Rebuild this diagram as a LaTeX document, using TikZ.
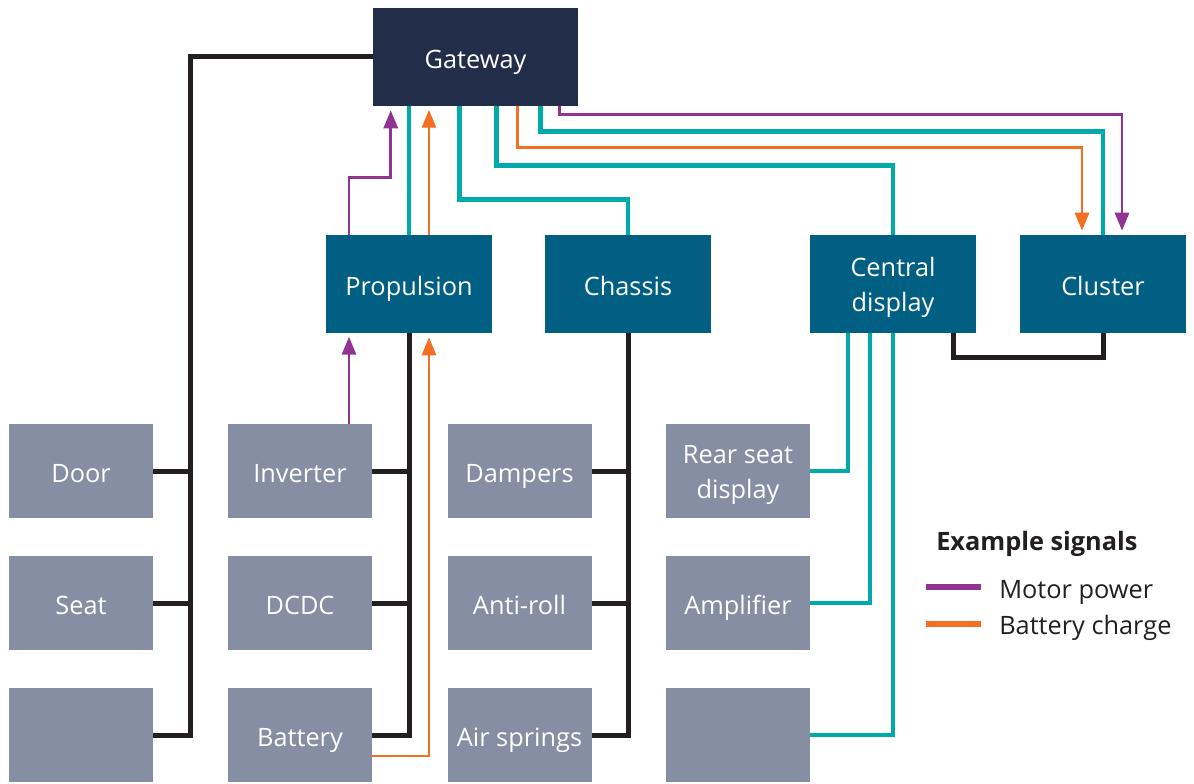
\documentclass[tikz,border=0pt]{standalone}
\usepackage{fontspec}
\setmainfont{Open Sans}
\usetikzlibrary{arrows.meta,calc}
\definecolor{gwnavy}{HTML}{222D4A}
\definecolor{zoneblue}{HTML}{005F83}
\definecolor{ecugrey}{HTML}{868EA3}
\definecolor{busblack}{HTML}{231F20}
\definecolor{ethteal}{HTML}{00AAAA}
\definecolor{motorpurple}{HTML}{913393}
\definecolor{chargeorange}{HTML}{F46F22}
\tikzset{>={Triangle[length=13.5pt,width=10.5pt]}}
\tikzset{
  ecu/.style={fill=ecugrey,text=white,minimum width=108pt,minimum height=70.5pt,inner sep=0pt,align=center,
    font=\fontsize{19}{26}\selectfont,text height=16.7pt,text depth=0pt},
  twolines/.style={text height=41pt,text depth=0pt},
  zonebox/.style={ecu,fill=zoneblue,minimum width=124.5pt,minimum height=73.5pt},
  gwbox/.style={zonebox,fill=gwnavy,minimum width=153.75pt},
  bus/.style={draw=busblack,line width=3.75pt},
  eth/.style={draw=ethteal,line width=3.4pt},
  motor/.style={draw=motorpurple,line width=2.2pt,shorten >=3pt},
  charge/.style={draw=chargeorange,line width=2.2pt,shorten >=3pt},
  keytext/.style={anchor=west,inner sep=0pt,text=busblack,font=\fontsize{19}{23}\selectfont,text height=16.7pt,text depth=0pt}
}
\begin{document}
\begin{tikzpicture}[x=0.75pt,y=-0.75pt]
\useasboundingbox (0,0) rectangle (1194,784);
\node[gwbox] (gw) at (475.5,57) {Gateway};
\node[zonebox] (prop) at (409,284) {Propulsion};
\node[zonebox] (chas) at (628,284) {Chassis};
\node[zonebox,twolines] (cd) at (893,284) {Central\\display};
\node[zonebox] (clu) at (1103,284) {Cluster};
\node[ecu] (door) at (81,471) {Door};
\node[ecu] (seat) at (81,603) {Seat};
\node[ecu] (body3) at (81,735) {};
\node[ecu] (inv) at (300,471) {Inverter};
\node[ecu] (dcdc) at (300,603) {DCDC};
\node[ecu] (batt) at (300,735) {Battery};
\node[ecu] (damp) at (519.5,471) {Dampers};
\node[ecu] (aroll) at (519.5,603) {Anti-roll};
\node[ecu] (air) at (519.5,735) {Air springs};
\node[ecu,twolines] (rsd) at (738,471) {Rear seat\\display};
\node[ecu] (amp) at (738,603) {Amplifier};
\node[ecu] (info3) at (738,735) {};
\draw[bus] (body3.east) -- ++(37,0) |- (gw.west);
\draw[bus] (door.east) -- ++(37,0);
\draw[bus] (seat.east) -- ++(37,0);
\draw[bus] (batt.east) -| (prop.south);
\draw[bus] (inv.east) -- (inv.east -| prop.south);
\draw[bus] (dcdc.east) -- (dcdc.east -| prop.south);
\draw[bus] (air.east) -| (chas.south);
\draw[bus] (damp.east) -- (damp.east -| chas.south);
\draw[bus] (aroll.east) -- (aroll.east -| chas.south);
\draw[bus] ($(cd.south)+(60,0)$) -- ++(0,24) -| (clu.south);
\draw[eth] (cd.south) |- (info3.east);
\draw[eth] ($(cd.south)+(-23,0)$) |- (amp.east);
\draw[eth] ($(cd.south)+(-45,0)$) |- (rsd.east);
\draw[eth] (prop.north) -- (prop.north |- gw.south);
\draw[eth] ($(gw.south west)+(87,0)$) -- ++(0,93) -| (chas.north);
\draw[eth] ($(gw.south west)+(124,0)$) -- ++(0,59) -| (cd.north);
\draw[eth] ($(gw.south west)+(168,0)$) -- ++(0,25) -| (clu.north);
\draw[motor,->] ($(prop.north)+(-60,0)$) -- ++(0,-57) -| ($(gw.south west)+(18,0)$);
\draw[motor,->] ($(inv.north)+(49,0)$) -- ++(0,-91);
\draw[motor,->] ($(gw.south west)+(187,0)$) -- ++(0,8) -| ($(clu.north)+(19,0)$);
\draw[charge,->] ($(prop.north)+(20,0)$) -- ++(0,-129);
\draw[charge,->] ($(batt.east)+(0,21)$) -| ($(prop.south)+(20,0)$);
\draw[charge,->] ($(gw.south west)+(145,0)$) -- ++(0,41) -| ($(clu.north)+(-21,0)$);
\node[keytext,font=\bfseries\fontsize{19}{23}\selectfont] (sigs) at (936,539) {Example signals};
\node[keytext] (lmot) at (999,587) {Motor power};
\node[keytext] (lchg) at (999,623) {Battery charge};
\draw[motorpurple,line width=4pt] ($(lmot.west)+(-18,0)$) -- ++(-55,0);
\draw[chargeorange,line width=4pt] ($(lchg.west)+(-18,1)$) -- ++(-55,0);
\end{tikzpicture}
\end{document}
